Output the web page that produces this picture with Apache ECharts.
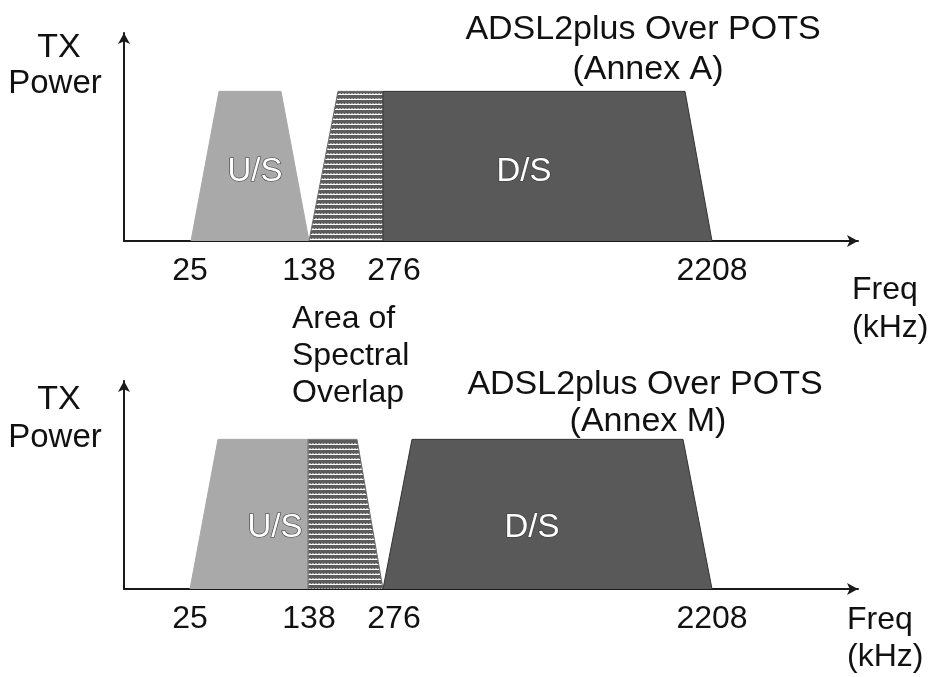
<!DOCTYPE html>
<html>
<head>
<meta charset="utf-8">
<title>ADSL2plus Over POTS</title>
<script src="https://cdn.jsdelivr.net/npm/echarts@6/dist/echarts.min.js"></script>
<style>
  html, body { margin: 0; padding: 0; background: #fff; }
  #chart { width: 938px; height: 677px; }
</style>
</head>
<body>
<div id="chart"></div>
<script>
// frequency axis is drawn schematically, so band edges are in diagram units
const tickPos = [66, 185, 259, 588]
const tickText = ['25', '138', '276', '2208']

// Annex A
const usA = [[67, 0], [95, 1], [157, 1], [185, 0]]
const overlapA = [[185, 0], [214, 1], [259, 1], [259, 0]]
const dsA = [[259, 0], [259, 1], [561, 1], [588, 0]]

// Annex M
const usM = [[66, 0], [94, 1], [184, 1], [184, 0]]
const overlapM = [[184, 0], [184, 1], [233, 1], [259, 0]]
const dsM = [[259, 0], [288, 1], [559, 1], [588, 0]]

const FONT = '"Liberation Sans", Arial, sans-serif'
const AXIS = { color: '#1a1a1a', width: 2 }

function hatchPattern() {
  const c = document.createElement('canvas')
  c.width = 6
  c.height = 5
  const g = c.getContext('2d')
  g.fillStyle = '#5c5c5c'
  g.fillRect(0, 0, 6, 5)
  g.fillStyle = '#a8a8a8'
  g.fillRect(0, 3, 2, 1)
  g.fillRect(3, 3, 2, 1)
  g.fillStyle = '#ffffff'
  g.fillRect(0, 4, 6, 1)
  return c
}
const hatch = { image: hatchPattern(), repeat: 'repeat' }

const xAxisFor = (gridIndex) => ({
  gridIndex,
  type: 'value',
  min: 0,
  max: 734,
  axisLine: { show: true, symbol: ['none', 'arrow'], symbolSize: [9, 11], lineStyle: AXIS },
  axisTick: { show: false },
  splitLine: { show: false },
  axisLabel: {
    customValues: tickPos,
    margin: 14,
    fontSize: 32,
    fontFamily: FONT,
    color: '#111',
    formatter: (v) => {
      const t = tickText[tickPos.indexOf(v)]
      // 276 is nudged right in the original so it clears 138
      return t === '276' ? '{n|' + t + '}' : t
    },
    rich: { n: { fontSize: 32, fontFamily: FONT, color: '#111', padding: [0, 0, 0, 22] } },
  },
})

const yAxisFor = (gridIndex) => ({
  gridIndex,
  type: 'value',
  min: 0,
  max: 1.39,
  axisLine: { show: true, symbol: ['none', 'arrow'], symbolSize: [9, 11], lineStyle: AXIS },
  axisTick: { show: false },
  axisLabel: { show: false },
  splitLine: { show: false },
})

const band = (name, data, idx, fill, edge) => ({
  name,
  type: 'line',
  xAxisIndex: idx,
  yAxisIndex: idx,
  data,
  symbol: 'none',
  silent: true,
  lineStyle: { color: edge, width: 1 },
  areaStyle: { color: fill, opacity: 1 },
})

const text = (str, x, y, size, extra = {}) => ({
  type: 'text',
  z: 100,
  style: {
    text: str,
    x,
    y,
    font: `${size}px ${FONT}`,
    fill: '#111',
    align: 'center',
    verticalAlign: 'middle',
    ...extra,
  },
})

const bandLabel = { fill: '#ffffff', stroke: '#3a3a3a', lineWidth: 1.2 }

const chart = echarts.init(document.getElementById('chart'))
chart.setOption({
  animation: false,
  backgroundColor: '#fff',
  grid: [
    { left: 124, top: 33, width: 734, height: 208 },
    { left: 124, top: 381, width: 734, height: 208 },
  ],
  xAxis: [xAxisFor(0), xAxisFor(1)],
  yAxis: [yAxisFor(0), yAxisFor(1)],
  series: [
    band('U/S', usA, 0, '#a9a9a9', '#a9a9a9'),
    band('Overlap', overlapA, 0, hatch, '#6a6a6a'),
    band('D/S', dsA, 0, '#595959', '#333'),
    band('U/S', usM, 1, '#a9a9a9', '#a9a9a9'),
    band('Overlap', overlapM, 1, hatch, '#6a6a6a'),
    band('D/S', dsM, 1, '#595959', '#333'),
  ],
  graphic: [
    text('TX', 59, 48, 34),
    text('Power', 55, 84, 33),
    text('ADSL2plus Over POTS', 643, 30, 34),
    text('(Annex A)', 648, 70, 34),
    text('Freq', 852, 290, 32, { align: 'left' }),
    text('(kHz)', 852, 328, 32, { align: 'left' }),
    text('Area of\nSpectral\nOverlap', 292, 356, 32, { align: 'left', lineHeight: 37 }),
    text('TX', 59, 400, 34),
    text('Power', 55, 438, 33),
    text('ADSL2plus Over POTS', 645, 385, 34),
    text('(Annex M)', 648, 422, 34),
    text('Freq', 847, 620, 32, { align: 'left' }),
    text('(kHz)', 847, 657, 32, { align: 'left' }),
    text('U/S', 255, 172, 33, bandLabel),
    text('D/S', 524, 172, 33, bandLabel),
    text('U/S', 275, 528, 33, bandLabel),
    text('D/S', 532, 528, 33, bandLabel),
  ],
})

window.addEventListener('resize', () => chart.resize())
</script>
</body>
</html>
